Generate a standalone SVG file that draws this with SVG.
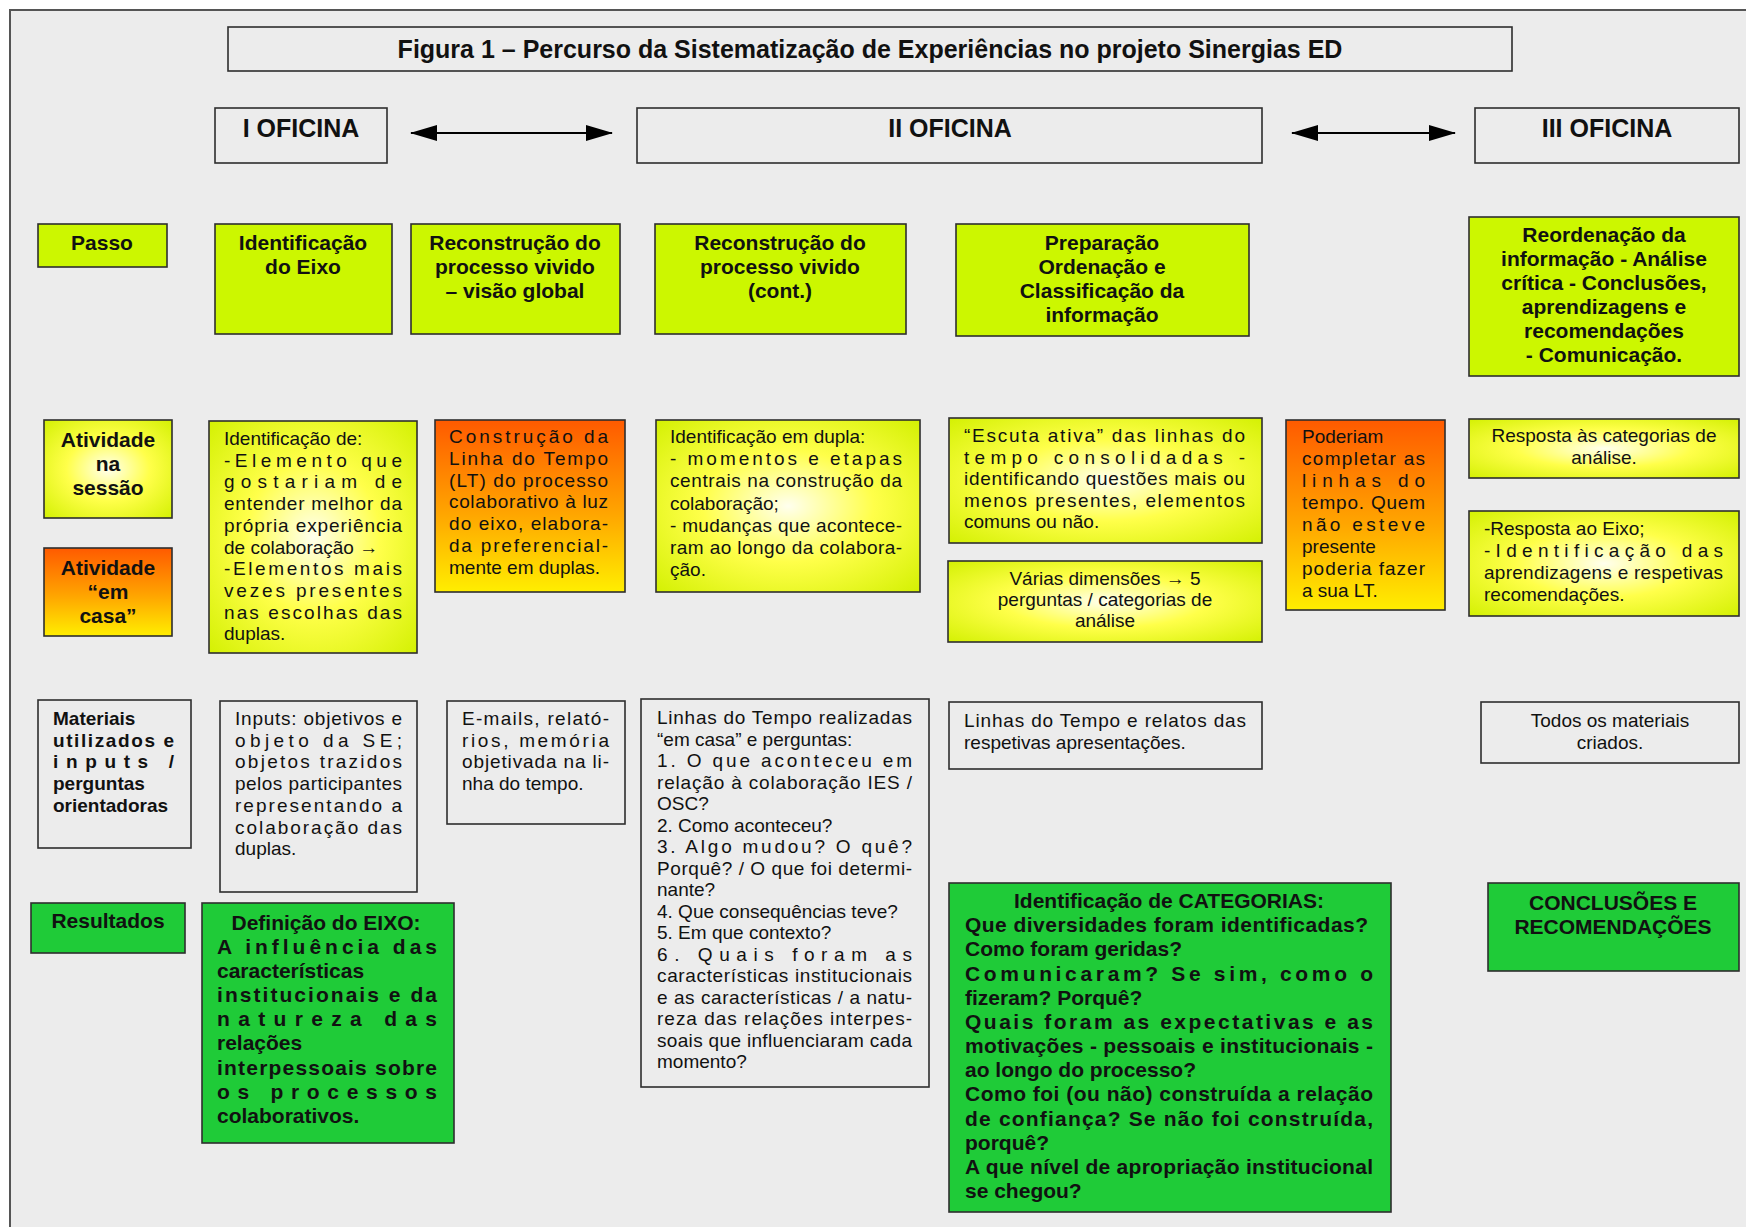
<svg xmlns="http://www.w3.org/2000/svg" width="1746" height="1227" viewBox="0 0 1746 1227">
<style>
text{font-family:"Liberation Sans",Arial,sans-serif;fill:#111}
.n{font-size:19px}
.b{font-size:21px;font-weight:bold}
.bs{font-size:19px;font-weight:bold}
.h{font-size:25px;font-weight:bold}
.c{text-anchor:middle}
.box{stroke:#2e2e2e;stroke-width:1.6}
.gray{fill:#ececec}
.lime{fill:#ccf700}
.green{fill:#1fcb38}
.yel{fill:url(#yel)}
.org{fill:url(#org)}
.conn{stroke:#000;stroke-width:2;fill:none;marker-start:url(#ah);marker-end:url(#ah)}
</style>
<defs>
<radialGradient id="yel" cx="50%" cy="50%" r="72%">
<stop offset="0" stop-color="#ffffee"/>
<stop offset="0.45" stop-color="#ffff4a"/>
<stop offset="1" stop-color="#d2f000"/>
</radialGradient>
<linearGradient id="org" x1="0" y1="0" x2="0" y2="1">
<stop offset="0" stop-color="#ff5a00"/>
<stop offset="0.55" stop-color="#ffa600"/>
<stop offset="1" stop-color="#ffee00"/>
</linearGradient>
<marker id="ah" markerUnits="userSpaceOnUse" markerWidth="27" markerHeight="16" refX="26" refY="8" orient="auto-start-reverse" viewBox="0 0 27 16">
<path d="M0,0 L27,8 L0,16 z" fill="#000"/>
</marker>
</defs>
<rect width="1746" height="1227" fill="#ffffff"/>
<rect x="10" y="10" width="1750" height="1230" fill="#ececec" stroke="#555" stroke-width="2"/>

<g id="title"><rect class="box gray" x="228" y="27" width="1284" height="44"/>
<text class="h c" x="870" y="58">Figura 1 – Percurso da Sistematização de Experiências no projeto Sinergias ED</text></g>

<g id="oficina1"><rect class="box gray" x="215" y="108" width="172" height="55"/><text class="h c" x="301" y="137">I OFICINA</text></g>
<g id="oficina2"><rect class="box gray" x="637" y="108" width="625" height="55"/><text class="h c" x="950" y="137">II OFICINA</text></g>
<g id="oficina3"><rect class="box gray" x="1475" y="108" width="264" height="55"/><text class="h c" x="1607" y="137">III OFICINA</text></g>

<g id="connectors">
<line class="conn" x1="411" y1="133" x2="612" y2="133"/>
<line class="conn" x1="1292" y1="133" x2="1455" y2="133"/>
</g>

<g id="passo"><rect class="box lime" x="38" y="224" width="129" height="43"/><text class="b c" x="102" y="250">Passo</text></g>
<g id="identificacao-eixo"><rect class="box lime" x="215" y="224" width="177" height="110"/>
<text class="b c" x="303" y="250">Identificação</text><text class="b c" x="303" y="274">do Eixo</text></g>
<g id="reconstrucao-global"><rect class="box lime" x="411" y="224" width="209" height="110"/>
<text class="b c" x="515" y="250">Reconstrução do</text><text class="b c" x="515" y="274">processo vivido</text><text class="b c" x="515" y="298">– visão global</text></g>
<g id="reconstrucao-cont"><rect class="box lime" x="655" y="224" width="251" height="110"/>
<text class="b c" x="780" y="250">Reconstrução do</text><text class="b c" x="780" y="274">processo vivido</text><text class="b c" x="780" y="298">(cont.)</text></g>
<g id="preparacao"><rect class="box lime" x="956" y="224" width="293" height="112"/>
<text class="b c" x="1102" y="250">Preparação</text><text class="b c" x="1102" y="274">Ordenação e</text><text class="b c" x="1102" y="298">Classificação da</text><text class="b c" x="1102" y="322">informação</text></g>
<g id="reordenacao"><rect class="box lime" x="1469" y="217" width="270" height="159"/>
<text class="b c" x="1604" y="242">Reordenação da</text><text class="b c" x="1604" y="266">informação -  Análise</text><text class="b c" x="1604" y="290">crítica - Conclusões,</text><text class="b c" x="1604" y="314">aprendizagens e</text><text class="b c" x="1604" y="338">recomendações</text><text class="b c" x="1604" y="362">- Comunicação.</text></g>

<g id="atividade-sessao"><rect class="box yel" x="44" y="420" width="128" height="98"/>
<text class="b c" x="108" y="447">Atividade</text><text class="b c" x="108" y="471">na</text><text class="b c" x="108" y="495">sessão</text></g>
<g id="atividade-casa"><rect class="box org" x="44" y="548" width="128" height="88"/>
<text class="b c" x="108" y="575">Atividade</text><text class="b c" x="108" y="599">“em</text><text class="b c" x="108" y="623">casa”</text></g>

<g id="identificacao-de"><rect class="box yel" x="209" y="421" width="208" height="232"/>
<text class="n" x="224" y="445">Identificação de:</text>
<text class="n" x="224" y="466.7" textLength="178" lengthAdjust="spacing">-Elemento que</text>
<text class="n" x="224" y="488.4" textLength="178" lengthAdjust="spacing">gostariam de</text>
<text class="n" x="224" y="510.1" textLength="178" lengthAdjust="spacing">entender melhor da</text>
<text class="n" x="224" y="531.8" textLength="178" lengthAdjust="spacing">própria experiência</text>
<text class="n" x="224" y="553.5">de colaboração →</text>
<text class="n" x="224" y="575.2" textLength="178" lengthAdjust="spacing">-Elementos mais</text>
<text class="n" x="224" y="596.9" textLength="178" lengthAdjust="spacing">vezes presentes</text>
<text class="n" x="224" y="618.6" textLength="178" lengthAdjust="spacing">nas escolhas das</text>
<text class="n" x="224" y="640.3">duplas.</text></g>

<g id="construcao-lt"><rect class="box org" x="435" y="420" width="190" height="172"/>
<text class="n" x="449" y="443" textLength="159" lengthAdjust="spacing">Construção da</text>
<text class="n" x="449" y="464.8" textLength="159" lengthAdjust="spacing">Linha do Tempo</text>
<text class="n" x="449" y="486.6" textLength="159" lengthAdjust="spacing">(LT) do processo</text>
<text class="n" x="449" y="508.4" textLength="159" lengthAdjust="spacing">colaborativo à luz</text>
<text class="n" x="449" y="530.2" textLength="159" lengthAdjust="spacing">do eixo, elabora-</text>
<text class="n" x="449" y="552" textLength="159" lengthAdjust="spacing">da preferencial-</text>
<text class="n" x="449" y="573.8">mente em duplas.</text></g>

<g id="identificacao-dupla"><rect class="box yel" x="656" y="420" width="264" height="172"/>
<text class="n" x="670" y="443">Identificação em dupla:</text>
<text class="n" x="670" y="465.2" textLength="232" lengthAdjust="spacing">- momentos e etapas</text>
<text class="n" x="670" y="487.4" textLength="232" lengthAdjust="spacing">centrais na construção da</text>
<text class="n" x="670" y="509.6">colaboração;</text>
<text class="n" x="670" y="531.8" textLength="232" lengthAdjust="spacing">- mudanças que acontece-</text>
<text class="n" x="670" y="554" textLength="232" lengthAdjust="spacing">ram ao longo da colabora-</text>
<text class="n" x="670" y="576.2">ção.</text></g>

<g id="escuta-ativa"><rect class="box yel" x="949" y="418" width="313" height="125"/>
<text class="n" x="964" y="442" textLength="281" lengthAdjust="spacing">“Escuta ativa” das linhas do</text>
<text class="n" x="964" y="463.5" textLength="281" lengthAdjust="spacing">tempo consolidadas -</text>
<text class="n" x="964" y="485" textLength="281" lengthAdjust="spacing">identificando questões mais ou</text>
<text class="n" x="964" y="506.5" textLength="281" lengthAdjust="spacing">menos presentes, elementos</text>
<text class="n" x="964" y="528">comuns ou não.</text></g>

<g id="varias-dimensoes"><rect class="box yel" x="948" y="561" width="314" height="81"/>
<text class="n c" x="1105" y="585">Várias dimensões → 5</text>
<text class="n c" x="1105" y="606">perguntas / categorias de</text>
<text class="n c" x="1105" y="627">análise</text></g>

<g id="poderiam"><rect class="box org" x="1286" y="420" width="159" height="190"/>
<text class="n" x="1302" y="443">Poderiam</text>
<text class="n" x="1302" y="465" textLength="123" lengthAdjust="spacing">completar as</text>
<text class="n" x="1302" y="487" textLength="123" lengthAdjust="spacing">linhas do</text>
<text class="n" x="1302" y="509" textLength="123" lengthAdjust="spacing">tempo. Quem</text>
<text class="n" x="1302" y="531" textLength="123" lengthAdjust="spacing">não esteve</text>
<text class="n" x="1302" y="553">presente</text>
<text class="n" x="1302" y="575" textLength="123" lengthAdjust="spacing">poderia fazer</text>
<text class="n" x="1302" y="597">a sua LT.</text></g>

<g id="resposta-categorias"><rect class="box yel" x="1469" y="419" width="270" height="59"/>
<text class="n c" x="1604" y="442">Resposta às categorias de</text>
<text class="n c" x="1604" y="464">análise.</text></g>

<g id="resposta-eixo"><rect class="box yel" x="1469" y="511" width="270" height="105"/>
<text class="n" x="1484" y="535">-Resposta ao Eixo;</text>
<text class="n" x="1484" y="557" textLength="239" lengthAdjust="spacing">-Identificação das</text>
<text class="n" x="1484" y="579" textLength="239" lengthAdjust="spacing">aprendizagens e respetivas</text>
<text class="n" x="1484" y="601">recomendações.</text></g>

<g id="materiais"><rect class="box gray" x="38" y="700" width="153" height="148"/>
<text class="bs" x="53" y="725">Materiais</text>
<text class="bs" x="53" y="746.7" textLength="121" lengthAdjust="spacing">utilizados e</text>
<text class="bs" x="53" y="768.4" textLength="121" lengthAdjust="spacing">inputs /</text>
<text class="bs" x="53" y="790.1">perguntas</text>
<text class="bs" x="53" y="811.8">orientadoras</text></g>

<g id="inputs"><rect class="box gray" x="220" y="701" width="197" height="191"/>
<text class="n" x="235" y="725" textLength="167" lengthAdjust="spacing">Inputs: objetivos e</text>
<text class="n" x="235" y="746.7" textLength="167" lengthAdjust="spacing">objeto da SE;</text>
<text class="n" x="235" y="768.4" textLength="167" lengthAdjust="spacing">objetos trazidos</text>
<text class="n" x="235" y="790.1" textLength="167" lengthAdjust="spacing">pelos participantes</text>
<text class="n" x="235" y="811.8" textLength="167" lengthAdjust="spacing">representando a</text>
<text class="n" x="235" y="833.5" textLength="167" lengthAdjust="spacing">colaboração das</text>
<text class="n" x="235" y="855.2">duplas.</text></g>

<g id="emails"><rect class="box gray" x="447" y="701" width="178" height="123"/>
<text class="n" x="462" y="725" textLength="147" lengthAdjust="spacing">E-mails, relató-</text>
<text class="n" x="462" y="746.7" textLength="147" lengthAdjust="spacing">rios, memória</text>
<text class="n" x="462" y="768.4" textLength="147" lengthAdjust="spacing">objetivada na li-</text>
<text class="n" x="462" y="790.1">nha do tempo.</text></g>

<g id="linhas-tempo-perguntas"><rect class="box gray" x="641" y="699" width="288" height="388"/>
<text class="n" x="657" y="724" textLength="255" lengthAdjust="spacing">Linhas do Tempo realizadas</text>
<text class="n" x="657" y="745.5">“em casa”  e perguntas:</text>
<text class="n" x="657" y="767" textLength="255" lengthAdjust="spacing">1. O que aconteceu em</text>
<text class="n" x="657" y="788.5" textLength="255" lengthAdjust="spacing">relação à colaboração IES /</text>
<text class="n" x="657" y="810">OSC?</text>
<text class="n" x="657" y="831.5">2. Como aconteceu?</text>
<text class="n" x="657" y="853" textLength="255" lengthAdjust="spacing">3. Algo mudou? O quê?</text>
<text class="n" x="657" y="874.5" textLength="255" lengthAdjust="spacing">Porquê? / O que foi determi-</text>
<text class="n" x="657" y="896">nante?</text>
<text class="n" x="657" y="917.5">4. Que consequências teve?</text>
<text class="n" x="657" y="939">5. Em que contexto?</text>
<text class="n" x="657" y="960.5" textLength="255" lengthAdjust="spacing">6. Quais foram as</text>
<text class="n" x="657" y="982" textLength="255" lengthAdjust="spacing">características institucionais</text>
<text class="n" x="657" y="1003.5" textLength="255" lengthAdjust="spacing">e as características / a natu-</text>
<text class="n" x="657" y="1025" textLength="255" lengthAdjust="spacing">reza das relações interpes-</text>
<text class="n" x="657" y="1046.5" textLength="255" lengthAdjust="spacing">soais que influenciaram cada</text>
<text class="n" x="657" y="1068">momento?</text></g>

<g id="linhas-tempo-relatos"><rect class="box gray" x="949" y="702" width="313" height="67"/>
<text class="n" x="964" y="727" textLength="282" lengthAdjust="spacing">Linhas do Tempo e relatos das</text>
<text class="n" x="964" y="748.5">respetivas apresentações.</text></g>

<g id="todos-materiais"><rect class="box gray" x="1481" y="702" width="258" height="61"/>
<text class="n c" x="1610" y="727">Todos os materiais</text>
<text class="n c" x="1610" y="748.5">criados.</text></g>

<g id="resultados"><rect class="box green" x="31" y="903" width="154" height="50"/>
<text class="b c" x="108" y="928">Resultados</text></g>

<g id="definicao-eixo"><rect class="box green" x="202" y="903" width="252" height="240"/>
<text class="b c" x="326" y="930">Definição do EIXO:</text>
<text class="b" x="217" y="954" textLength="220" lengthAdjust="spacing">A influência das</text>
<text class="b" x="217" y="978">características</text>
<text class="b" x="217" y="1002" textLength="220" lengthAdjust="spacing">institucionais e da</text>
<text class="b" x="217" y="1026" textLength="220" lengthAdjust="spacing">natureza das</text>
<text class="b" x="217" y="1050">relações</text>
<text class="b" x="217" y="1075" textLength="220" lengthAdjust="spacing">interpessoais sobre</text>
<text class="b" x="217" y="1099" textLength="220" lengthAdjust="spacing">os processos</text>
<text class="b" x="217" y="1123">colaborativos.</text></g>

<g id="categorias"><rect class="box green" x="949" y="883" width="442" height="329"/>
<text class="b c" x="1169" y="908">Identificação de CATEGORIAS:</text>
<text class="b" x="965" y="932" textLength="403" lengthAdjust="spacing">Que diversidades foram identificadas?</text>
<text class="b" x="965" y="956">Como foram geridas?</text>
<text class="b" x="965" y="981" textLength="408" lengthAdjust="spacing">Comunicaram? Se sim, como o</text>
<text class="b" x="965" y="1005">fizeram? Porquê?</text>
<text class="b" x="965" y="1029" textLength="408" lengthAdjust="spacing">Quais foram as expectativas e as</text>
<text class="b" x="965" y="1053" textLength="408" lengthAdjust="spacing">motivações - pessoais e institucionais -</text>
<text class="b" x="965" y="1077">ao longo do processo?</text>
<text class="b" x="965" y="1101" textLength="408" lengthAdjust="spacing">Como foi (ou não) construída a relação</text>
<text class="b" x="965" y="1126" textLength="408" lengthAdjust="spacing">de confiança? Se não foi construída,</text>
<text class="b" x="965" y="1150">porquê?</text>
<text class="b" x="965" y="1174" textLength="408" lengthAdjust="spacing">A que nível de apropriação institucional</text>
<text class="b" x="965" y="1198">se chegou?</text></g>

<g id="conclusoes"><rect class="box green" x="1488" y="883" width="251" height="88"/>
<text class="b c" x="1613" y="910">CONCLUSÕES E</text>
<text class="b c" x="1613" y="934">RECOMENDAÇÕES</text></g>
</svg>
